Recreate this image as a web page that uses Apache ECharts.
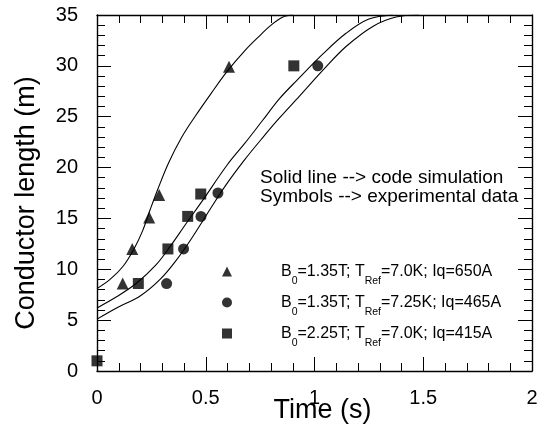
<!DOCTYPE html>
<html>
<head>
<meta charset="utf-8">
<script src="https://cdn.jsdelivr.net/npm/echarts@6/dist/echarts.min.js"></script>
<style>
html,body{margin:0;padding:0;background:#fff;}
#chart{width:546px;height:435px;}
</style>
</head>
<body>
<div id="chart"></div>
<script>
// ---- data ----
var xTicks = ['0', '0.5', '1', '1.5', '2'];
var yTicks = ['0', '5', '10', '15', '20', '25', '30', '35'];

// experimental data (symbols)
var expTriangle = [[0.118, 8.6], [0.162, 12.0], [0.24, 15.1], [0.286, 17.3], [0.607, 29.9]];
var expCircle = [[0.32, 8.6], [0.398, 12.0], [0.478, 15.2], [0.556, 17.5], [1.015, 30.0]];
var expSquare = [[0, 1.0], [0.19, 8.6], [0.326, 12.0], [0.417, 15.2], [0.477, 17.4], [0.905, 30.0]];

// code simulation (solid lines)
var simTriangle = [[0, 8.1], [0.06, 9.0], [0.12, 10.3], [0.17, 12.0], [0.21, 13.8], [0.245, 15.9],
  [0.28, 17.9], [0.33, 20.5], [0.39, 23.0], [0.45, 25.0], [0.525, 27.3], [0.6, 29.5],
  [0.68, 31.5], [0.75, 33.0], [0.8, 34.0], [0.855, 34.8], [0.9, 35]];
var simSquare = [[0, 6.2], [0.09, 7.3], [0.18, 8.6], [0.27, 10.4], [0.335, 12.2], [0.41, 14.5],
  [0.48, 16.6], [0.6, 20.3], [0.68, 22.4], [0.76, 24.6], [0.84, 26.8], [0.92, 28.6],
  [1.04, 31.2], [1.145, 33.2], [1.25, 34.6], [1.36, 35]];
var simCircle = [[0, 5.1], [0.09, 6.2], [0.2, 7.4], [0.29, 9.0], [0.365, 10.9], [0.44, 13.2],
  [0.52, 15.9], [0.59, 18.2], [0.68, 20.8], [0.76, 22.9], [0.84, 24.9], [0.93, 27.0],
  [1.04, 29.6], [1.145, 31.9], [1.27, 33.9], [1.375, 34.8], [1.48, 35]];

var legendB = ['1.35T', '1.35T', '2.25T'];
var legendT = ['7.0K', '7.25K', '7.0K'];
var legendIq = ['650A', '465A', '415A'];
var seriesNames = ['triangle', 'circle', 'square'];

var noteLines = ['Solid line --> code simulation', 'Symbols --> experimental data'];
var xTitle = 'Time (s)';
var yTitle = 'Conductor length (m)';

// ---- chart ----
var FONT = '"Liberation Sans", Arial, Helvetica, sans-serif';
var chart = echarts.init(document.getElementById('chart'), null, {renderer: 'canvas'});

function legendText(i) {
  return '{g| }{m|B}{s|0}{m|=' + legendB[i] + '; T}{s|Ref}{m|=' + legendT[i] + '; Iq=' + legendIq[i] + '}';
}

var axisLineStyle = {color: '#000', width: 1.4};
function xAxisDef(pos, showLabel) {
  return {
    type: 'value', position: pos, min: 0, max: 2, interval: 0.5,
    axisLine: {show: true, onZero: false, lineStyle: axisLineStyle},
    axisTick: {show: true, inside: true, length: 14, lineStyle: {color: '#000', width: 1}},
    minorTick: {show: true, splitNumber: 5, length: 8, lineStyle: {color: '#000', width: 1}},
    splitLine: {show: false},
    axisLabel: {show: showLabel, margin: 17, color: '#000', fontSize: 20, fontFamily: FONT,
      formatter: function (v) { return xTicks[Math.round(v / 0.5)]; }}
  };
}
function yAxisDef(pos, showLabel) {
  return {
    type: 'value', position: pos, min: 0, max: 35, interval: 5,
    axisLine: {show: true, onZero: false, lineStyle: axisLineStyle},
    axisTick: {show: true, inside: true, length: 14, lineStyle: {color: '#000', width: 1}},
    minorTick: {show: true, splitNumber: 5, length: 8, lineStyle: {color: '#000', width: 1}},
    splitLine: {show: false},
    axisLabel: {show: showLabel, margin: 19, color: '#000', fontSize: 20, fontFamily: FONT,
      formatter: function (v) { return yTicks[Math.round(v / 5)]; }}
  };
}

var lineSeries = function (data) {
  return {type: 'line', data: data, showSymbol: false, symbol: 'none', smooth: 0.35,
    lineStyle: {color: '#000', width: 1.1}, silent: true, z: 3, clip: true};
};

var option = {
  animation: false,
  backgroundColor: '#fff',
  grid: {left: 97, right: 14, top: 15, bottom: 64, containLabel: false},
  xAxis: [xAxisDef('bottom', true), xAxisDef('top', false)],
  yAxis: [yAxisDef('left', true), yAxisDef('right', false)],
  legend: {
    orient: 'vertical', left: 217, top: 251, itemWidth: 10, itemHeight: 10, itemGap: 0,
    selectedMode: false,
    data: [{name: seriesNames[0], icon: 'triangle'}, {name: seriesNames[1], icon: 'circle'}, {name: seriesNames[2], icon: 'rect'}],
    formatter: function (name) { return legendText(seriesNames.indexOf(name)); },
    textStyle: {
      color: '#000', fontFamily: FONT, fontSize: 16,
      rich: {
        g: {width: 44, fontSize: 16, lineHeight: 20},
        m: {fontSize: 16, lineHeight: 20, color: '#000', fontFamily: FONT},
        s: {fontSize: 10.5, lineHeight: 12, padding: [20, 0, 0, 0], color: '#000', fontFamily: FONT}
      }
    }
  },
  graphic: [
    {type: 'text', x: 260, y: 178, style: {text: noteLines[0], font: '19px ' + FONT, fill: '#000', textAlign: 'left', textVerticalAlign: 'middle'}},
    {type: 'text', x: 260, y: 196.5, style: {text: noteLines[1], font: '19px ' + FONT, fill: '#000', textAlign: 'left', textVerticalAlign: 'middle'}},
    {type: 'text', x: 322.5, y: 411, style: {text: xTitle, font: '27px ' + FONT, fill: '#000', textAlign: 'center', textVerticalAlign: 'middle'}},
    {type: 'text', x: 27, y: 203, rotation: Math.PI / 2, style: {text: yTitle, font: '27px ' + FONT, fill: '#000', textAlign: 'center', textVerticalAlign: 'middle'}}
  ],
  series: [
    lineSeries(simTriangle),
    lineSeries(simSquare),
    lineSeries(simCircle),
    {name: seriesNames[0], type: 'scatter', data: expTriangle, symbol: 'triangle', symbolSize: 12, itemStyle: {color: '#000'}, z: 5, clip: false},
    {name: seriesNames[1], type: 'scatter', data: expCircle, symbol: 'circle', symbolSize: 11, itemStyle: {color: '#000'}, z: 5, clip: false},
    {name: seriesNames[2], type: 'scatter', data: expSquare, symbol: 'rect', symbolSize: 11, itemStyle: {color: '#000'}, z: 5, clip: false}
  ]
};
chart.setOption(option);
</script>
</body>
</html>
